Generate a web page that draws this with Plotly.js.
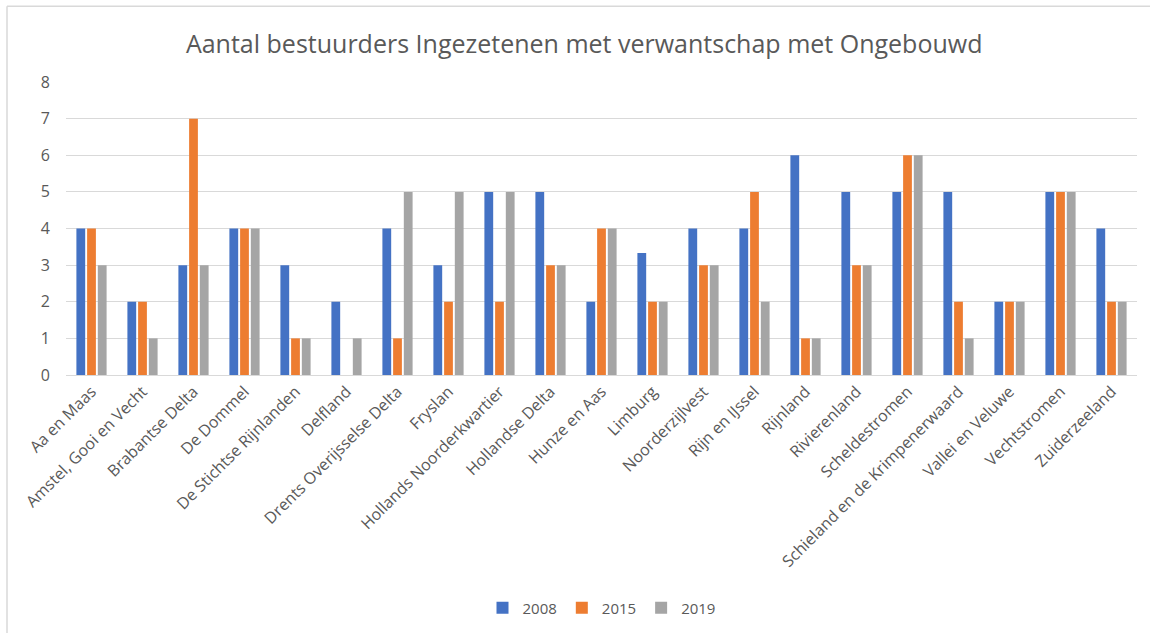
<!DOCTYPE html>
<html>
<head>
<meta charset="utf-8">
<script src="https://cdn.plot.ly/plotly-3.0.1.min.js"></script>
<style>html,body{margin:0;padding:0;background:#fff;}#chart{width:1150px;height:635px;}</style>
</head>
<body>
<div id="chart"></div>
<script>
const categories = ["Aa en Maas","Amstel, Gooi en Vecht","Brabantse Delta","De Dommel","De Stichtse Rijnlanden","Delfland","Drents Overijsselse Delta","Fryslan","Hollands Noorderkwartier","Hollandse Delta","Hunze en Aas","Limburg","Noorderzijlvest","Rijn en IJssel","Rijnland","Rivierenland","Scheldestromen","Schieland en de Krimpenerwaard","Vallei en Veluwe","Vechtstromen","Zuiderzeeland"];
const v2008 = [4,2,3,4,3,2,4,3,5,5,2,3.33,4,4,6,5,5,5,2,5,4];
const v2015 = [4,2,7,4,1,null,1,2,2,3,4,2,3,5,1,3,6,2,2,5,2];
const v2019 = [3,1,3,4,1,1,5,5,5,3,4,2,3,2,1,3,6,1,2,5,2];
const seriesNames = ["2008","2015","2019"];
const yTicks = [0,1,2,3,4,5,6,7,8];

const colors = ["#4472C4","#ED7D31","#A5A5A5"];
const font = "Open Sans, Noto Sans, sans-serif";
const data = [v2008, v2015, v2019].map((vals, i) => ({
  type: "bar", name: seriesNames[i], x: categories, y: vals,
  marker: {color: colors[i]}, hoverinfo: "x+y+name"
}));
const W = 1150, H = 635, ml = 66, mr = 13, mt = 82, mb = 259;
const pw = W - ml - mr, ph = H - mt - mb;
const px = v => (v - ml) / pw;
const py = v => (H - mb - v) / ph;
const layout = {
  width: W, height: H,
  paper_bgcolor: "#fff", plot_bgcolor: "#fff",
  margin: {l: ml, r: mr, t: mt, b: mb},
  title: {text: "Aantal bestuurders Ingezetenen met verwantschap met Ongebouwd", x: 0.508, xanchor: "center", y: 1 - 44/H, yanchor: "middle", yref: "container", font: {family: font, size: 25, color: "#595959"}},
  font: {family: font, color: "#595959"},
  barmode: "group", bargap: 0.37, bargroupgap: 0.18,
  xaxis: {type: "category", tickangle: -45, tickfont: {size: 16, color: "#595959"}, showgrid: false, showline: true, linecolor: "#D9D9D9", linewidth: 1, ticks: ""},
  yaxis: {range: [0, 8], tickvals: yTicks, ticktext: yTicks.map(String), tickfont: {size: 16, color: "#595959"}, gridcolor: "#D9D9D9", gridwidth: 1, zeroline: false, showline: false, ticklen: 0, ticks: "outside", tickcolor: "rgba(0,0,0,0)", ticklabelstandoff: 12},
  legend: {orientation: "h", x: 0.5, xanchor: "center", y: py(608), yanchor: "middle", font: {size: 15, color: "#595959"}, traceorder: "normal"},
  showlegend: true,
  shapes: [
    {type: "line", xref: "paper", yref: "paper", x0: px(7), x1: px(1150), y0: py(6), y1: py(6), line: {color: "#D9D9D9", width: 1.5}},
    {type: "line", xref: "paper", yref: "paper", x0: px(7), x1: px(7), y0: py(6), y1: py(635), line: {color: "#D9D9D9", width: 1.5}}
  ]
};
Plotly.newPlot("chart", data, layout, {displayModeBar: false, staticPlot: true});
</script>
</body>
</html>
